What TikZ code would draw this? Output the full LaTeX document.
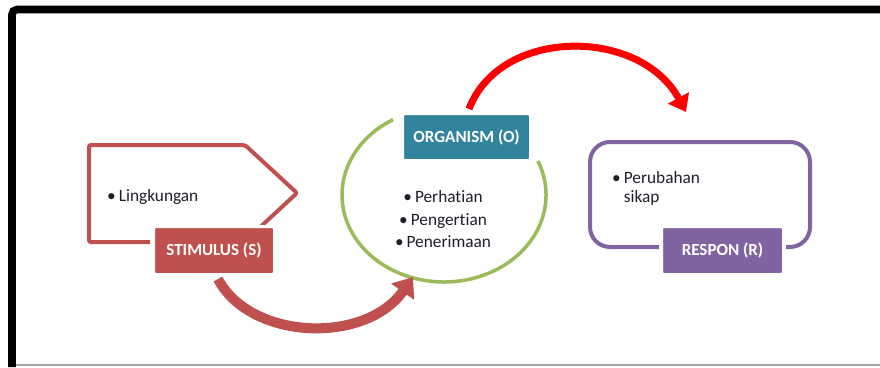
\documentclass[tikz,border=0pt]{standalone}
\usepackage{fontspec}
\setmainfont{Carlito}[Ligatures=NoCommon]
\usetikzlibrary{arrows.meta,calc}
\definecolor{stimred}{HTML}{C0504D}
\definecolor{orgteal}{HTML}{31849B}
\definecolor{resppurple}{HTML}{8064A2}
\definecolor{orggreen}{HTML}{9BBB59}
\definecolor{brightred}{HTML}{FF0000}
\definecolor{txt}{HTML}{1F1F2A}
\begin{document}
\begin{tikzpicture}[x=1pt,y=-1pt,
  every node/.style={font=\fontsize{17.3}{20}\selectfont, text=txt, inner sep=0pt},
  lbl/.style={rounded corners=2.5pt, draw=white, line width=3pt, text=white,
    font=\fontsize{17}{20}\selectfont\bfseries},
  bodytext/.style={font=\fontsize{17.3}{#1}\selectfont},
  frame/.style={line width=7.6pt, rounded corners=5pt},
  arrowA/.style={stimred, line width=10pt, -{Triangle[length=18pt,width=27pt]}},
  arrowB/.style={brightred, line width=7pt, -{Triangle[length=16pt,width=23pt]}}]
\useasboundingbox (0,0) rectangle (880,367);
\fill[white] (0,0) rectangle (880,367);
% frame
\draw[frame] (12,367) -- (12,9.5) -- (880,9.5);
\draw[gray!70, line width=1.2pt] (16,365) -- (880,365);
% stimulus container
\draw[stimred, line width=4pt, rounded corners=2pt] (150,242) -- (89,242) -- (89,145) -- (245,145) -- (297,193) -- (257,230);
% organism ellipse (open arc)
\coordinate (orgc) at (444,195);
\draw[orggreen, line width=3.5pt] (537.9,161) arc[start angle=-23, end angle=240, x radius=102, y radius=87];
% respon container
\draw[resppurple, line width=4pt, rounded corners=20pt] (659,247) -- (590,247) -- (590,142) -- (810,142) -- (810,247) -- (786,247);
% labels
\node[lbl, fill=stimred, minimum width=121, minimum height=48] (stim) at (214,250.5) {STIMULUS (S)};
\node[lbl, fill=orgteal, minimum width=128, minimum height=47] (org) at (466.5,137) {ORGANISM (O)};
\node[lbl, fill=resppurple, minimum width=122, minimum height=48] (resp) at (722.5,250.5) {RESPON (R)};
% texts
\node[anchor=west] (ling) at (107,197) {\textbullet\hspace{3pt}Lingkungan};
\node[align=center, bodytext=22.5] (orgtext) at (443,219.5) {\textbullet\hspace{3pt}Perhatian\\\textbullet\hspace{3pt}Pengertian\\\textbullet\hspace{3pt}Penerimaan};
\node[anchor=west, align=left, bodytext=19] (resptext) at (612,188) {\textbullet\hspace{3pt}Perubahan\\\phantom{\textbullet\hspace{3pt}}sikap};
% arrows
\draw[arrowA] ([xshift=4pt,yshift=-3pt]stim.south) .. controls (250,340) and (365,345) .. (413,277);
\draw[arrowB] ([xshift=2.5pt,yshift=3pt]org.north) .. controls (500,27) and (640,27) .. (686,112);
\end{tikzpicture}
\end{document}
